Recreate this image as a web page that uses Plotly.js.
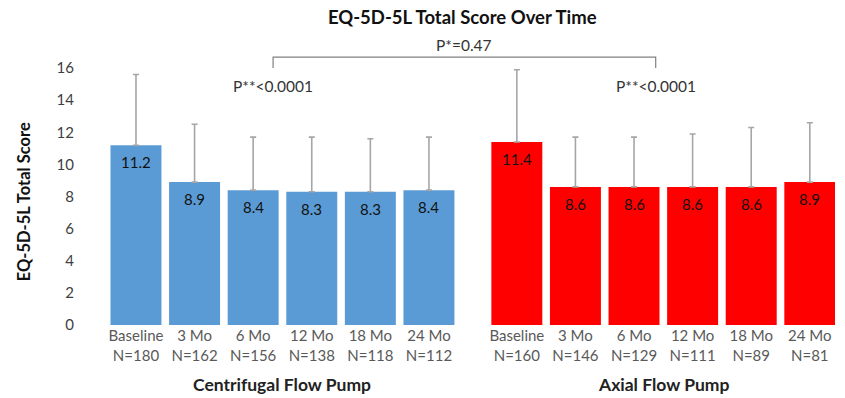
<!DOCTYPE html>
<html>
<head>
<meta charset="utf-8">
<script src="https://cdn.plot.ly/plotly-3.0.1.min.js"></script>
<style>html,body{margin:0;padding:0;background:#fff;}#chart{width:845px;height:398px;}</style>
</head>
<body>
<div id="chart"></div>
<script>
// ---- data ----
var timepoints = ["Baseline", "3 Mo", "6 Mo", "12 Mo", "18 Mo", "24 Mo"];
var centrifugalN = [180, 162, 156, 138, 118, 112];
var axialN = [160, 146, 129, 111, 89, 81];
var centrifugalMean = [11.2, 8.9, 8.4, 8.3, 8.3, 8.4];
var axialMean = [11.4, 8.6, 8.6, 8.6, 8.6, 8.9];
var centrifugalSD = [4.4, 3.6, 3.3, 3.4, 3.3, 3.3];
var axialSD = [4.5, 3.1, 3.1, 3.3, 3.7, 3.7];
var groupNames = ["Centrifugal Flow Pump", "Axial Flow Pump"];
var pOverall = "P*=0.47";
var pWithin = ["P**<0.0001", "P**<0.0001"];
var yTicks = [0, 2, 4, 6, 8, 10, 12, 14, 16];

// ---- layout helpers ----
var groupGap = 1.5; // slots between groups
var xC = timepoints.map(function(_, i){ return i; });
var xA = timepoints.map(function(_, i){ return i + timepoints.length + groupGap - 1; });
var font = "Lato, 'Open Sans', sans-serif";

function fmt(v){ return v.toFixed(1); }

var errStyle = {type: 'data', symmetric: false, arrayminus: [0,0,0,0,0,0], color: '#a6a6a6', thickness: 1.6, width: 3};

var traceC = {
  type: 'bar', x: xC, y: centrifugalMean, width: 0.87,
  marker: {color: '#5b9bd5', line: {width: 0}},
  error_y: Object.assign({array: centrifugalSD}, errStyle),
  hoverinfo: 'none', cliponaxis: false
};
var traceA = {
  type: 'bar', x: xA, y: axialMean, width: 0.87,
  marker: {color: '#ff0000', line: {width: 0}},
  error_y: Object.assign({array: axialSD}, errStyle),
  hoverinfo: 'none', cliponaxis: false
};

var tickvals = xC.concat(xA);
var ticktext = timepoints.map(function(t, i){ return t + '<br>N=' + centrifugalN[i]; })
  .concat(timepoints.map(function(t, i){ return t + '<br>N=' + axialN[i]; }));

function mean(a){ return a.reduce(function(s,v){return s+v;},0)/a.length; }

var bracketL = 2.34, bracketR = 8.87, bracketTop = 16.69, bracketBot = 16.0;

var valueLabels = [];
[[xC, centrifugalMean], [xA, axialMean]].forEach(function(g){
  g[0].forEach(function(x, i){
    valueLabels.push({xref: 'x', yref: 'y', x: x, y: g[1][i], yanchor: 'middle', yshift: -17,
      text: fmt(g[1][i]), showarrow: false, font: {family: font, size: 15, color: '#111'}});
  });
});

var layout = {
  width: 845, height: 398,
  margin: {l: 100, r: 10, t: 36, b: 73},
  paper_bgcolor: '#fff', plot_bgcolor: '#fff',
  showlegend: false,
  font: {family: font, color: '#595959'},
  title: {text: '<b>EQ-5D-5L Total Score Over Time</b>', font: {family: font, size: 18.5, color: '#111'},
          xref: 'container', x: 0.547, xanchor: 'center', yref: 'container', y: 0.957, yanchor: 'middle'},
  xaxis: {range: [-0.614, 11.93], tickvals: tickvals, ticktext: ticktext, showgrid: false, zeroline: false,
          showline: false, ticks: '', tickfont: {family: font, size: 15, color: '#595959'}},
  yaxis: {range: [0, 18], tickvals: yTicks, showgrid: false, zeroline: false, showline: false,
          ticks: 'outside', ticklen: 22, tickcolor: 'rgba(0,0,0,0)', tickfont: {family: font, size: 15, color: '#404040'}},
  shapes: [
    {type: 'path', xref: 'x', yref: 'y',
     path: 'M ' + bracketL + ' ' + bracketBot + ' L ' + bracketL + ' ' + bracketTop + ' L ' + bracketR + ' ' + bracketTop + ' L ' + bracketR + ' ' + bracketBot,
     line: {color: '#808080', width: 1.2}}
  ],
  annotations: valueLabels.concat([
    {xref: 'paper', yref: 'y', x: -0.103, y: 7.66, xanchor: 'center', yanchor: 'middle', textangle: -90,
     text: '<b>EQ-5D-5L Total Score</b>', showarrow: false, font: {family: font, size: 16.5, color: '#111'}},
    {xref: 'x', yref: 'y', x: (bracketL + bracketR)/2, y: 17.43, text: pOverall, showarrow: false,
     font: {family: font, size: 15.5, color: '#333'}},
    {xref: 'x', yref: 'y', x: bracketL, y: 14.88, text: pWithin[0], showarrow: false,
     font: {family: font, size: 15.5, color: '#333'}},
    {xref: 'x', yref: 'y', x: bracketR, y: 14.88, text: pWithin[1], showarrow: false,
     font: {family: font, size: 15.5, color: '#333'}},
    {xref: 'x', yref: 'paper', x: mean(xC), y: -0.206, yanchor: 'middle', text: '<b>' + groupNames[0] + '</b>', showarrow: false,
     font: {family: font, size: 17.5, color: '#222'}},
    {xref: 'x', yref: 'paper', x: mean(xA), y: -0.206, yanchor: 'middle', text: '<b>' + groupNames[1] + '</b>', showarrow: false,
     font: {family: font, size: 17.5, color: '#222'}}
  ])
};

Plotly.newPlot('chart', [traceC, traceA], layout, {displayModeBar: false, staticPlot: true});
</script>
</body>
</html>
